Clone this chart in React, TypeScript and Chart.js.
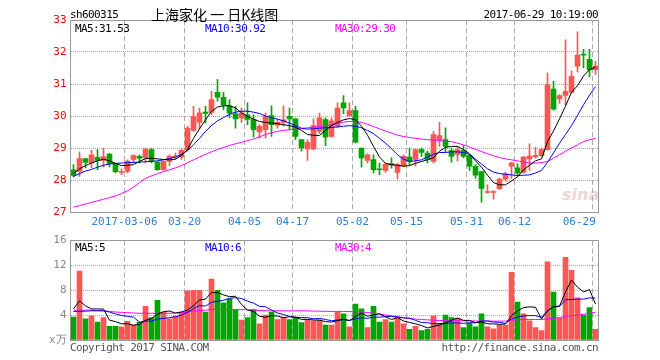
import React, { useEffect, useRef } from 'react';
import { Chart, registerables } from 'chart.js';

Chart.register(...registerables);

const DATES = ['02-21','02-22','02-23','02-24','02-27','02-28','03-01','03-02','03-03','03-06','03-07','03-08','03-09','03-10','03-13','03-14','03-15','03-16','03-17','03-20','03-21','03-22','03-23','03-24','03-27','03-28','03-29','03-30','03-31','04-05','04-06','04-07','04-10','04-11','04-12','04-13','04-14','04-17','04-18','04-19','04-20','04-21','04-24','04-25','04-26','04-27','04-28','05-02','05-03','05-04','05-05','05-08','05-09','05-10','05-11','05-12','05-15','05-16','05-17','05-18','05-19','05-22','05-23','05-24','05-25','05-26','05-31','06-01','06-02','06-05','06-06','06-07','06-08','06-09','06-12','06-13','06-14','06-15','06-16','06-19','06-20','06-21','06-22','06-23','06-26','06-27','06-28','06-29'];

const X_TICK_LABELS = ['2017-03-06','03-20','04-05','04-17','05-02','05-15','05-31','06-12','06-29'];

const OPEN = [28.32,28.27,28.67,28.53,28.71,28.61,28.81,28.51,28.24,28.27, 28.64,28.74,28.69,28.95,28.56,28.32,28.58,28.72,28.72,28.95, 29.55,29.80,30.12,30.11,30.74,30.58,30.32,30.07,29.94,30.04, 29.89,29.50,29.57,30.01,29.71,29.80,29.99,29.91,29.26,28.97, 28.97,29.52,29.89,29.36,29.68,30.41,30.01,30.17,29.00,28.61, 28.64,28.34,28.30,28.51,28.24,28.45,28.72,28.64,28.95,28.84, 28.58,29.26,29.26,28.92,28.80,28.92,28.77,28.43,28.26,27.61, 27.61,27.73,28.03,28.43,28.38,28.24,28.66,28.72,28.76,28.95, 30.84,30.53,30.64,30.74,31.56,31.93,31.77,31.45];
const HIGH = [28.48,28.88,28.67,28.93,28.95,29.00,28.83,28.52,28.35,28.63, 28.79,28.79,29.00,29.00,28.58,28.60,28.79,28.84,28.97,29.68, 30.30,30.25,30.30,30.77,31.14,30.74,30.51,30.30,30.25,30.41, 30.04,29.73,30.09,30.32,29.90,30.32,30.25,29.91,29.26,29.26, 29.91,30.09,29.94,29.94,30.41,30.64,30.41,30.30,29.00,28.82, 28.79,28.53,28.53,28.69,28.51,28.79,29.00,28.97,29.00,28.90, 29.52,29.80,29.63,29.00,29.05,29.07,28.77,28.48,28.26,27.85, 27.67,28.06,28.25,28.55,28.51,28.74,29.13,29.02,29.00,31.34, 31.08,30.67,32.38,31.40,32.63,32.08,32.08,31.71];
const LOW = [28.10,28.11,28.38,28.38,28.32,28.40,28.41,28.22,28.17,28.22, 28.53,28.53,28.53,28.53,28.30,28.30,28.45,28.64,28.64,28.90, 29.52,29.60,29.78,30.04,30.46,30.20,29.94,29.62,29.80,29.73, 29.34,29.31,29.31,29.36,29.62,29.68,29.57,29.26,28.90,28.61, 28.95,29.45,29.07,29.34,29.63,30.07,29.99,29.16,28.40,28.53, 28.22,28.17,28.24,28.37,28.03,28.41,28.48,28.43,28.74,28.53, 28.53,29.05,28.88,28.56,28.60,28.69,28.30,28.06,27.31,27.58, 27.40,27.70,27.96,28.05,28.12,28.22,28.30,28.69,28.74,28.93, 30.18,30.39,30.35,30.72,31.38,31.51,31.23,31.30];
const CLOSE = [28.14,28.67,28.55,28.79,28.61,28.73,28.51,28.26,28.27,28.59, 28.76,28.68,28.97,28.58,28.32,28.58,28.74,28.74,28.93,29.62, 29.99,30.10,30.08,30.51,30.59,30.35,30.09,29.91,30.09,29.89, 29.57,29.68,29.99,29.73,29.80,29.88,29.91,29.36,29.00,29.18, 29.70,29.94,29.34,29.85,30.25,30.25,30.17,29.18,28.69,28.79, 28.32,28.32,28.50,28.46,28.48,28.74,28.58,28.95,28.86,28.64, 29.42,29.39,29.05,28.74,28.95,28.74,28.43,28.15,27.74,27.63, 27.64,28.03,28.19,28.54,28.22,28.72,28.75,28.77,28.95,30.98, 30.21,30.64,30.77,31.24,31.90,31.90,31.44,31.56];

const MA5 = [28.2,28.35,28.45,28.53,28.6,28.65,28.6,28.52,28.45,28.46, 28.48,28.58,28.67,28.68,28.66,28.64,28.63,28.65,28.77,28.95, 29.3,29.6,29.88,30.15,30.28,30.32,30.32,30.25,30.1,29.99, 29.9,29.83,29.8,29.78,29.76,29.73,29.7,29.65,29.55,29.42, 29.4,29.39,29.55,29.7,29.8,29.88,29.92,29.88,29.68,29.4, 29.05,28.72,28.52,28.48,28.46,28.43,28.45,28.52,28.58,28.63, 28.7,28.9,29.02,29.05,29.05,28.95,28.82,28.6,28.4,28.15, 27.92,27.85,27.85,27.97,28.1,28.32,28.46,28.6,28.66,29.2, 29.53,29.91,30.31,30.74,30.95,31.25,31.45,31.53];
const MA10 = [28.11,28.2,28.28,28.33,28.4,28.46,28.5,28.52,28.53,28.54, 28.55,28.56,28.57,28.58,28.6,28.63,28.67,28.72,28.8,28.92, 29.1,29.3,29.52,29.7,29.85,29.95,30.05,30.12,30.15,30.15, 30.12,30.08,30.0,29.95,29.9,29.85,29.78,29.7,29.62,29.59, 29.6,29.62,29.63,29.64,29.66,29.68,29.7,29.68,29.63,29.55, 29.45,29.3,29.15,28.98,28.79,28.65,28.58,28.6,28.63,28.72, 28.8,28.86,28.86,28.88,28.88,28.86,28.8,28.65,28.5,28.35, 28.25,28.2,28.18,28.16,28.14,28.15,28.16,28.22,28.3,28.55, 28.85,29.15,29.42,29.7,30.02,30.35,30.65,30.92];
const MA30 = [27.15,27.2,27.25,27.3,27.35,27.4,27.45,27.5,27.58,27.66, 27.78,27.92,28.05,28.13,28.2,28.26,28.32,28.38,28.45,28.54, 28.63,28.72,28.8,28.88,28.95,29.02,29.08,29.13,29.18,29.23, 29.28,29.35,29.42,29.48,29.52,29.55,29.57,29.59,29.61,29.63, 29.65,29.67,29.69,29.72,29.78,29.81,29.83,29.82,29.8,29.74, 29.67,29.6,29.53,29.47,29.4,29.36,29.33,29.3,29.28,29.26, 29.25,29.23,29.21,29.2,29.15,29.1,29.03,28.96,28.89,28.82, 28.76,28.7,28.66,28.63,28.6,28.56,28.53,28.53,28.54,28.58, 28.68,28.79,28.9,29.0,29.1,29.2,29.26,29.3];

const VOLUME = [3.7,11.1,3.4,3.9,2.9,3.6,2.2,2.2,2.1,3.0, 2.4,2.9,5.4,3.6,6.4,4.5,3.4,3.8,4.5,7.9, 8.0,8.0,4.5,9.8,8.0,6.0,6.6,4.8,3.2,3.6, 4.9,2.6,4.0,4.5,3.3,3.6,3.3,3.6,2.8,3.3, 3.1,3.2,2.4,2.4,4.5,4.2,2.1,5.8,5.0,2.0, 5.4,2.9,3.3,2.9,3.6,2.6,1.7,2.2,1.5,1.7, 3.9,2.7,4.0,3.6,3.5,2.0,2.7,2.1,4.2,2.1, 1.8,2.4,2.4,10.9,6.1,4.2,3.1,2.0,1.5,12.6, 7.7,3.5,13.3,11.2,6.8,4.0,5.2,1.7];
const VOL_MA5 = [5.0,6.3,5.5,5.0,5.0,4.98,3.2,2.96,2.6,2.62, 2.38,2.52,3.16,3.46,4.14,4.56,4.66,4.34,4.52,4.82, 5.52,6.44,6.58,7.64,7.66,7.26,6.98,7.04,5.72,4.84, 4.62,3.82,3.66,3.92,3.86,3.6,3.74,3.66,3.32,3.32, 3.22,3.2,2.96,2.88,3.12,3.34,3.12,3.8,4.32,3.82, 4.06,4.22,3.72,3.3,3.62,3.06,2.82,2.6,2.32,1.94, 2.2,2.4,2.76,3.18,3.54,3.16,3.16,2.78,2.9,2.62, 2.58,2.52,2.58,3.92,4.72,5.2,5.34,5.26,3.38,4.68, 5.38,5.46,7.72,9.66,8.5,7.76,8.1,5.78];
const VOL_MA10 = [4.6,4.6,4.65,4.7,4.7,4.7,4.5,4.2,3.95,3.81, 3.68,2.86,3.06,3.03,3.38,3.47,3.59,3.75,3.99,4.48, 5.04,5.55,5.46,6.08,6.24,6.39,6.71,6.81,6.68,6.25, 5.94,5.4,5.35,4.82,4.35,4.11,3.78,3.66,3.62,3.59, 3.41,3.47,3.31,3.1,3.22,3.28,3.16,3.38,3.6,3.47, 3.7,3.67,3.76,3.81,3.72,3.56,3.52,3.16,2.81,2.78, 2.63,2.61,2.68,2.75,2.74,2.68,2.78,2.77,3.04,3.08, 2.87,2.84,2.68,3.41,3.67,3.89,3.93,3.92,3.65,4.7, 5.29,5.4,6.49,6.52,6.59,6.57,6.78,6.75];
const VOL_MA30 = [4.8,4.8,4.8,4.8,4.75,4.7,4.6,4.5,4.45,4.4, 4.35,4.3,4.3,4.3,4.3,4.3,4.3,4.35,4.4,4.5, 4.65,4.75,4.8,4.9,4.9,4.9,4.9,4.9,4.9,4.85, 4.8,4.75,4.72,4.7,4.7,4.7,4.7,4.7,4.7,4.68, 4.66,4.64,4.62,4.6,4.6,4.6,4.58,4.55,4.5,4.42, 4.32,4.18,4.02,3.88,3.72,3.58,3.45,3.36,3.3,3.24, 3.18,3.14,3.12,3.1,3.1,3.08,3.06,3.05,3.05,3.04, 3.04,3.04,3.04,3.2,3.25,3.3,3.3,3.3,3.3,3.4, 3.5,3.6,3.8,3.9,4.0,4.15,4.3,4.48];

const RED = '#ff5555';
const GREEN = '#00a600';
const MONO = '"DejaVu Sans Mono", "Liberation Mono", monospace';

const labelFor = (i: number) => X_TICK_LABELS.find((l) => l.endsWith(DATES[i]));
const isMarked = (i: any) => typeof i === 'number' && i >= 0 && i < DATES.length && !!labelFor(i);

const framePlugin = {
  id: 'frame',
  afterDraw(chart: any) {
    const { ctx, chartArea: a } = chart;
    ctx.save();
    ctx.strokeStyle = '#999';
    ctx.lineWidth = 1;
    const l = Math.floor(a.left) + 0.5;
    const t = Math.floor(a.top) + 0.5;
    const r = Math.floor(a.right) + 0.5;
    const b = Math.floor(a.bottom) + 0.5;
    ctx.strokeRect(l, t, r - l, b - t);
    ctx.restore();
  },
};

const lineDs = (label: string, data: number[], color: string) => ({
  type: 'line' as const,
  label,
  data,
  borderColor: color,
  borderWidth: 1,
  pointRadius: 0,
  tension: 0,
  fill: false,
  order: 0,
});

const xScale = (showLabels: boolean) => ({
  offset: true,
  grid: {
    offset: true,
    drawTicks: false,
    lineWidth: 1,
    color: (ctx: any) => (ctx.tick && isMarked(ctx.index) ? '#aaa' : 'transparent'),
  },
  border: { display: false, dash: [5, 3] },
  ticks: {
    display: showLabels,
    autoSkip: false,
    maxRotation: 0,
    minRotation: 0,
    padding: 4,
    labelOffset: -3,
    color: '#2b7fd8',
    font: { family: MONO, size: 11 },
    callback: (_v: any, i: number) => {
      const l = labelFor(i);
      if (!l) return '';
      return i === DATES.length - 1 ? l + '    ' : l;
    },
  },
  afterFit: (s: any) => {
    s.height = showLabels ? 24 : 20;
    s.paddingLeft = 0;
    s.paddingRight = 0;
  },
});

function Txt(props: { x: number; y: number; color?: string; size?: number; right?: boolean; font?: string; ls?: number; children: any; style?: any }) {
  const size = props.size ?? 11;
  const st: any = {
    position: 'absolute',
    top: props.y - size / 2,
    fontFamily: props.font ?? MONO,
    fontSize: size,
    lineHeight: size + 'px',
    color: props.color ?? '#000',
    whiteSpace: 'pre',
    letterSpacing: (props.ls ?? -0.6) + 'px',
    ...props.style,
  };
  if (props.right) st.right = 660 - props.x;
  else st.left = props.x;
  return <div style={st}>{props.children}</div>;
}

export default function App() {
  const priceRef = useRef<HTMLCanvasElement>(null);
  const volRef = useRef<HTMLCanvasElement>(null);

  useEffect(() => {
    const colors = CLOSE.map((c, i) => (c >= OPEN[i] ? RED : GREEN));

    const price = new Chart(priceRef.current as HTMLCanvasElement, {
      type: 'bar',
      data: {
        labels: DATES,
        datasets: [
          lineDs('MA5', MA5, '#000000'),
          lineDs('MA10', MA10, '#0000ff'),
          lineDs('MA30', MA30, '#ff00ff'),
          {
            type: 'bar',
            label: 'body',
            data: OPEN.map((o, i) => [o, CLOSE[i]]) as any,
            backgroundColor: colors,
            borderWidth: 0,
            barThickness: 5,
            grouped: false,
            minBarLength: 1,
            order: 1,
          } as any,
          {
            type: 'bar',
            label: 'wick',
            data: LOW.map((l, i) => [l, HIGH[i]]) as any,
            backgroundColor: colors,
            borderWidth: 0,
            barThickness: 1,
            grouped: false,
            order: 2,
          } as any,
        ],
      },
      options: {
        animation: false,
        responsive: false,
        devicePixelRatio: 1,
        layout: { padding: { top: 20, right: 61.5, left: 0, bottom: 0 } },
        plugins: { legend: { display: false }, tooltip: { enabled: false } },
        scales: {
          x: xScale(true) as any,
          y: {
            min: 27,
            max: 33,
            grid: {
              drawTicks: false,
              color: (ctx: any) => (ctx.tick && ctx.tick.value > 27 && ctx.tick.value < 33 ? '#aaa' : 'transparent'),
            },
            border: { display: false, dash: [1, 1] },
            ticks: { stepSize: 1, padding: 4, color: '#ff0000', font: { family: MONO, size: 11 } },
            afterFit: (s: any) => {
              s.width = 70.5;
            },
          } as any,
        },
      },
      plugins: [framePlugin],
    });

    const vol = new Chart(volRef.current as HTMLCanvasElement, {
      type: 'bar',
      data: {
        labels: DATES,
        datasets: [
          lineDs('MA5', VOL_MA5, '#000000'),
          lineDs('MA10', VOL_MA10, '#0000ff'),
          lineDs('MA30', VOL_MA30, '#ff00ff'),
          {
            type: 'bar',
            label: 'volume',
            data: VOLUME,
            backgroundColor: colors,
            borderWidth: 0,
            barThickness: 5,
            grouped: false,
            order: 1,
          } as any,
        ],
      },
      options: {
        animation: false,
        responsive: false,
        devicePixelRatio: 1,
        layout: { padding: { top: 10, right: 61.5, left: 0, bottom: 0 } },
        plugins: { legend: { display: false }, tooltip: { enabled: false } },
        scales: {
          x: xScale(false) as any,
          y: {
            min: 0,
            max: 16,
            grid: {
              drawTicks: false,
              color: (ctx: any) => (ctx.tick && ctx.tick.value > 0 && ctx.tick.value < 16 ? '#aaa' : 'transparent'),
            },
            border: { display: false, dash: [1, 1] },
            ticks: {
              stepSize: 4,
              padding: 4,
              color: '#888888',
              font: { family: MONO, size: 11 },
              callback: (v: any) => (Number(v) === 0 ? 'x万' : String(v)),
            },
            afterFit: (s: any) => {
              s.width = 70.5;
            },
          } as any,
        },
      },
      plugins: [framePlugin],
    });

    return () => {
      price.destroy();
      vol.destroy();
    };
  }, []);

  return (
    <div style={{ position: 'fixed', left: 0, top: 0, width: 660, height: 360, background: '#fff', overflow: 'hidden' }}>
      <div
        style={{
          position: 'absolute',
          left: 562,
          top: 186,
          fontFamily: '"DejaVu Sans", sans-serif',
          fontStyle: 'italic',
          fontWeight: 'bold',
          fontSize: 16,
          lineHeight: '18px',
          color: '#ecd6d6',
        }}
      >
        sina
      </div>
      <canvas ref={priceRef} width={660} height={236} style={{ position: 'absolute', left: 0, top: 0 }} />
      <canvas ref={volRef} width={660} height={130} style={{ position: 'absolute', left: 0, top: 230 }} />

      <Txt x={70} y={14}>sh600315</Txt>
      <Txt x={151} y={13.5} size={14} font={'"Noto Sans CJK SC", sans-serif'} ls={0}>上海家化 一 日K线图</Txt>
      <Txt x={598} y={14} right>2017-06-29 10:19:00</Txt>

      <Txt x={75} y={28}>MA5:31.53</Txt>
      <Txt x={205} y={28} color="#0000ff">MA10:30.92</Txt>
      <Txt x={335} y={28} color="#ff00ff">MA30:29.30</Txt>

      <Txt x={75} y={247}>MA5:5</Txt>
      <Txt x={205} y={247} color="#0000ff">MA10:6</Txt>
      <Txt x={335} y={247} color="#ff00ff">MA30:4</Txt>

      <Txt x={70} y={347} color="#555">Copyright 2017 SINA.COM</Txt>
      <Txt x={598} y={347} color="#555" right>http://finance.sina.com.cn</Txt>
    </div>
  );
}
